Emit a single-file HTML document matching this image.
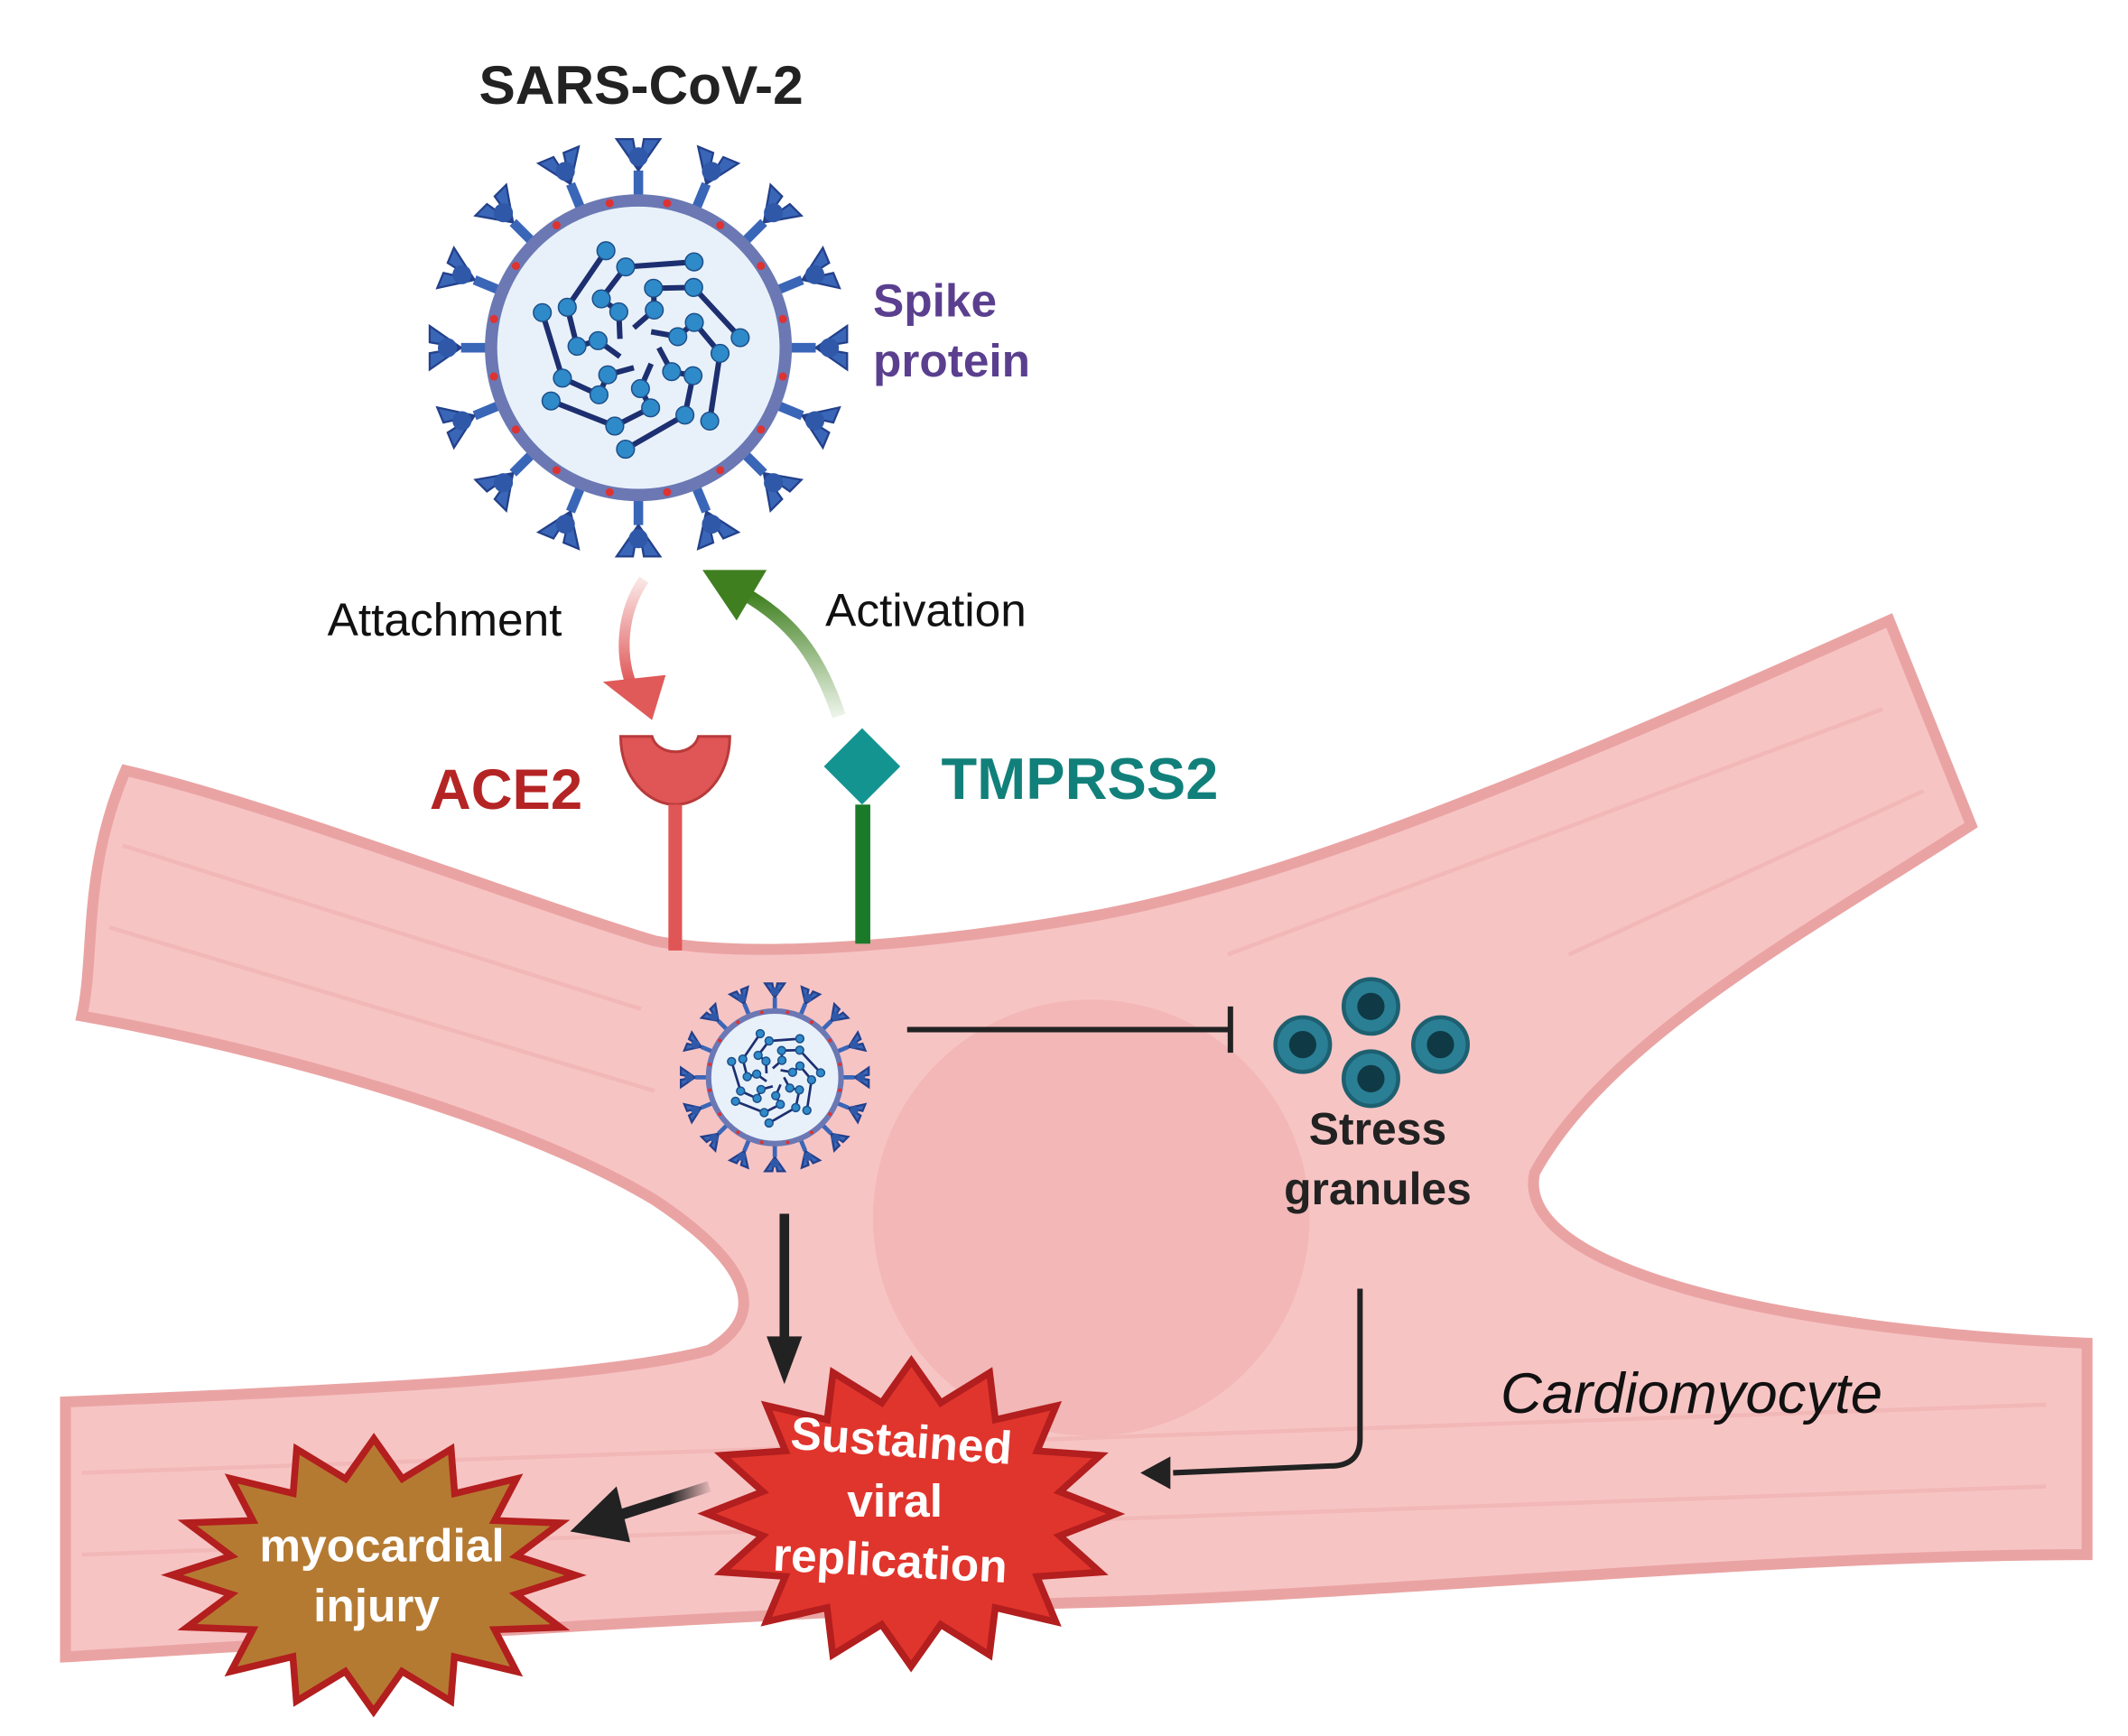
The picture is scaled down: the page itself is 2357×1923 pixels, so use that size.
<!DOCTYPE html>
<html><head><meta charset="utf-8"><style>
html,body{margin:0;padding:0;background:#fff;width:2357px;height:1923px;overflow:hidden}
svg{display:block}
text{font-family:"Liberation Sans",sans-serif}
</style></head><body>
<svg id="s" width="2357" height="1923" viewBox="0 0 1560 1273" preserveAspectRatio="none" xmlns="http://www.w3.org/2000/svg">
<defs>
<linearGradient id="gg" x1="0" y1="1" x2="0" y2="0"><stop offset="0" stop-color="#4a8a2a" stop-opacity="0.1"/><stop offset="1" stop-color="#3f7f1f"/></linearGradient>
<linearGradient id="rg" x1="0" y1="0" x2="0" y2="1"><stop offset="0" stop-color="#e05a5a" stop-opacity="0.15"/><stop offset="1" stop-color="#e05a5a"/></linearGradient>
<linearGradient id="kg" x1="1" y1="0" x2="0" y2="0"><stop offset="0" stop-color="#222" stop-opacity="0.1"/><stop offset="0.4" stop-color="#222"/><stop offset="1" stop-color="#222"/></linearGradient>
</defs>
<path d="M92,565 C200,590 380,660 480,690 C560,705 700,690 800,672 C950,645 1150,560 1385,455 L1445,605 C1330,680 1180,760 1125,860 C1110,930 1300,975 1530,985 L1530,1140 C1300,1140 1000,1170 800,1175 C600,1180 300,1200 48,1215 L48,1028 C250,1020 450,1010 520,990 C570,960 540,920 480,880 C380,820 200,770 60,745 C70,700 60,640 92,565 Z" fill="#f7c4c4" stroke="#eaa3a3" stroke-width="8"/>
<g stroke="#efb0b0" stroke-width="3" opacity="0.6">
<line x1="90" y1="620" x2="470" y2="740"/><line x1="80" y1="680" x2="480" y2="800"/><line x1="900" y1="700" x2="1380" y2="520"/><line x1="60" y1="1080" x2="1500" y2="1030"/><line x1="60" y1="1140" x2="1500" y2="1090"/><line x1="1150" y1="700" x2="1410" y2="580"/>
</g>
<circle cx="800" cy="893" r="160" fill="#f0adad" opacity="0.55"/>
<g id="virusBig"></g>
<g id="virusSmall"></g>
<text x="470" y="76" text-anchor="middle" font-size="40" font-weight="bold" fill="#222">SARS-CoV-2</text>
<text x="640" y="232" font-size="34" font-weight="bold" fill="#5b3f8f">Spike</text>
<text x="640" y="276" font-size="34" font-weight="bold" fill="#5b3f8f">protein</text>
<text x="240" y="466" font-size="34" fill="#111">Attachment</text>
<text x="605" y="459" font-size="34" fill="#111">Activation</text>
<path d="M472,425 C455,450 455,480 462,500" fill="none" stroke="url(#rg)" stroke-width="8"/>
<polygon points="442,500 488,495 478,528" fill="#e05a5a"/>
<path d="M615,525 C600,480 580,455 545,435" fill="none" stroke="url(#gg)" stroke-width="10"/>
<polygon points="515,418 562,418 540,455" fill="#3f7f1f"/>
<text x="315" y="593" font-size="42" font-weight="bold" fill="#b52424">ACE2</text>
<path d="M455,540 L478,540 C482,555 508,555 512,540 L535,540 C535,570 515,590 495,590 C475,590 455,570 455,540 Z" fill="#e05555" stroke="#b83a3a" stroke-width="2"/>
<rect x="490" y="590" width="10" height="107" fill="#e05555"/>
<text x="690" y="586" font-size="43" font-weight="bold" fill="#12807a">TMPRSS2</text>
<rect x="627" y="590" width="11" height="102" fill="#1a7a2a"/>
<polygon points="632,534 660,562 632,590 604,562" fill="#139490"/>
<line x1="665" y1="755" x2="902" y2="755" stroke="#222" stroke-width="4"/>
<line x1="902" y1="738" x2="902" y2="772" stroke="#222" stroke-width="4"/>
<g fill="#2a7f95" stroke="#1e6070" stroke-width="3">
<circle cx="955" cy="766" r="20"/><circle cx="1005" cy="738" r="20"/><circle cx="1056" cy="766" r="20"/><circle cx="1005" cy="791" r="20"/>
</g>
<g fill="#0f3a45"><circle cx="955" cy="766" r="10"/><circle cx="1005" cy="738" r="10"/><circle cx="1056" cy="766" r="10"/><circle cx="1005" cy="791" r="10"/></g>
<text x="1010" y="839" text-anchor="middle" font-size="33" font-weight="bold" fill="#222">Stress</text>
<text x="1010" y="883" text-anchor="middle" font-size="33" font-weight="bold" fill="#222">granules</text>
<line x1="575" y1="890" x2="575" y2="985" stroke="#222" stroke-width="7"/>
<polygon points="562,980 588,980 575,1015" fill="#222"/>
<path d="M997,945 L997,1055 Q997,1075 975,1075 L860,1080" fill="none" stroke="#222" stroke-width="4"/>
<polygon points="836,1080 858,1068 858,1092" fill="#222"/>
<text x="1100" y="1036" font-size="42" font-style="italic" fill="#111">Cardiomyocyte</text>
<polygon id="st1" fill="#e0352d" stroke="#b31e1e" stroke-width="5"/>
<polygon id="st2" fill="#b57a32" stroke="#b31e1e" stroke-width="5"/>
<line x1="520" y1="1090" x2="448" y2="1113" stroke="url(#kg)" stroke-width="8"/>
<polygon points="418,1123 452,1090 462,1131" fill="#222"/>
<g font-weight="bold" fill="#fff" text-anchor="middle">
<text x="660" y="1068" font-size="34" transform="rotate(4 660 1068)">Sustained</text>
<text x="656" y="1112" font-size="34">viral</text>
<text x="652" y="1156" font-size="34" transform="rotate(3 652 1156)">replication</text>
<text x="280" y="1145" font-size="34">myocardial</text>
<text x="276" y="1189" font-size="34">injury</text>
</g>
</svg>
<script>
function star(id,cx,cy,rx,ry,k,n,rot){var p=[];for(var i=0;i<2*n;i++){var a=rot+Math.PI*i/n;var f=i%2?k:1;p.push((cx+rx*f*Math.cos(a)).toFixed(1)+","+(cy+ry*f*Math.sin(a)).toFixed(1));}document.getElementById(id).setAttribute("points",p.join(" "));}
star("st1",668,1110,150,112,0.74,16,-1.57);
star("st2",274,1155,148,100,0.72,16,-1.57);
function virus(gid,cx,cy,s){
var g=document.getElementById(gid),h="";
var R=108*s;
for(var i=0;i<16;i++){var a=i*Math.PI/8-Math.PI/2;var c=Math.cos(a),d=Math.sin(a);
var x1=cx+R*c,y1=cy+R*d,x2=cx+(R+22*s)*c,y2=cy+(R+22*s)*d,x3=cx+(R+45*s)*c,y3=cy+(R+45*s)*d;
var px=-d,py=c;
h+='<line x1="'+x1+'" y1="'+y1+'" x2="'+x2+'" y2="'+y2+'" stroke="#3a66b8" stroke-width="'+(7*s)+'"/>';
h+='<path d="M'+x2+','+y2+' L'+(x3+px*16*s)+','+(y3+py*16*s)+' L'+(x3+px*4*s)+','+(y3+py*4*s)+' Z" fill="#3a66b8" stroke="#23408a" stroke-width="1.5"/>';
h+='<path d="M'+x2+','+y2+' L'+(x3-px*16*s)+','+(y3-py*16*s)+' L'+(x3-px*4*s)+','+(y3-py*4*s)+' Z" fill="#3a66b8" stroke="#23408a" stroke-width="1.5"/>';
h+='<ellipse cx="'+(x2+c*10*s)+'" cy="'+(y2+d*10*s)+'" rx="'+(7*s)+'" ry="'+(7*s)+'" fill="#2f58a8"/>';}
h+='<circle cx="'+cx+'" cy="'+cy+'" r="'+R+'" fill="#e8f1fa" stroke="#6b78b3" stroke-width="'+(9*s)+'"/>';
for(var i=0;i<16;i++){var a=i*Math.PI/8-Math.PI/2+Math.PI/16;h+='<circle cx="'+(cx+R*Math.cos(a))+'" cy="'+(cy+R*Math.sin(a))+'" r="'+(3*s)+'" fill="#d33"/>';}
for(var k=0;k<7;k++){var a0=k*2*Math.PI/7;var pts=[];for(var t=0;t<5;t++){var rr=(15+t*15)*s;var aa=a0+t*0.35+Math.sin(t*2)*0.3;pts.push([cx+rr*Math.cos(aa),cy+rr*Math.sin(aa)]);}
var dd='M'+pts.map(function(p){return p.join(',')}).join(' L');h+='<path d="'+dd+'" fill="none" stroke="#1d2f70" stroke-width="'+(4*s)+'"/>';
pts.slice(1).forEach(function(p){h+='<circle cx="'+p[0]+'" cy="'+p[1]+'" r="'+(6.5*s)+'" fill="#2f8ac9" stroke="#1d4f8a" stroke-width="1"/>';});}
g.innerHTML=h;}
virus("virusBig",468,255,1);
virus("virusSmall",568,790,0.45);
</script>
</body></html>
